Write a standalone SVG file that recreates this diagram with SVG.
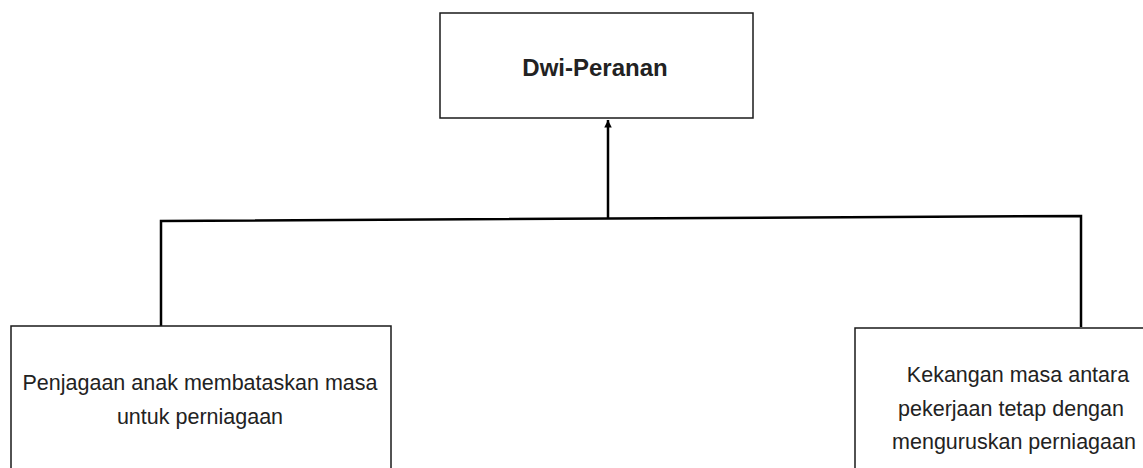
<svg xmlns="http://www.w3.org/2000/svg" width="1143" height="468" viewBox="0 0 1143 468">
<style>
.box{fill:#fff;stroke:#1a1a1a;stroke-width:1.5}
.con{fill:none;stroke:#000;stroke-width:2.5}
.t{font-family:"Liberation Sans",Arial,sans-serif;font-size:21.5px;fill:#222;text-anchor:middle}
.b{font-weight:bold;font-size:24px}
</style>
<defs>
<marker id="ah" viewBox="0 0 10 10" refX="10" refY="5" markerWidth="3" markerHeight="3" orient="auto" markerUnits="strokeWidth">
<path d="M0,0 L10,5 L0,10 Z" fill="#000"/>
</marker>
</defs>
<rect width="1143" height="468" fill="#fff"/>
<g id="connectors">
<path class="con" d="M608,218 L608,120" marker-end="url(#ah)"/>
<path class="con" d="M161,326 L161,221 L1081,216 L1081,327"/>
</g>
<g id="node-top">
<rect class="box" x="440" y="13" width="313" height="105"/>
<text class="t b" x="595" y="76">Dwi-Peranan</text>
</g>
<g id="node-left">
<rect class="box" x="11" y="326" width="380" height="150"/>
<text class="t" x="200" y="390">Penjagaan anak membataskan masa</text>
<text class="t" x="200" y="424">untuk perniagaan</text>
</g>
<g id="node-right">
<rect class="box" x="855" y="328" width="300" height="150"/>
<text class="t" x="1018" y="382">Kekangan masa antara</text>
<text class="t" x="1011" y="416">pekerjaan tetap dengan</text>
<text class="t" x="1014" y="449">menguruskan perniagaan</text>
</g>
</svg>
